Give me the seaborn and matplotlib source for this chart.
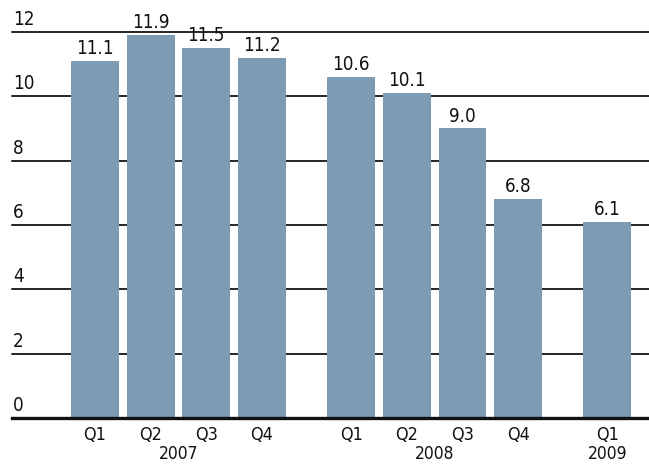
import matplotlib
matplotlib.use("Agg")
import matplotlib.pyplot as plt
import matplotlib.transforms as mtransforms
from matplotlib import font_manager
import seaborn as sns
import pandas as pd

# Quarterly GDP growth, percent
quarters = ["Q1", "Q2", "Q3", "Q4", "Q1", "Q2", "Q3", "Q4", "Q1"]
years = ["2007", "2007", "2007", "2007", "2008", "2008", "2008", "2008", "2009"]
growth = [11.1, 11.9, 11.5, 11.2, 10.6, 10.1, 9.0, 6.8, 6.1]
y_ticks = [0, 2, 4, 6, 8, 10, 12]

sns.set_theme(style="white")
names = {f.name for f in font_manager.fontManager.ttflist}
condensed = [n for n in ["Liberation Sans Narrow", "DejaVu Sans Condensed"] if n in names]
plt.rcParams["font.family"] = condensed + ["DejaVu Sans"]
plt.rcParams["font.stretch"] = "condensed"

# Bars sit in year groups with an extra gap between groups
year_order = list(dict.fromkeys(years))
group_gap = 0.6
pos = [i + group_gap * year_order.index(y) for i, y in enumerate(years)]
df = pd.DataFrame({"pos": pos, "growth": growth, "quarter": quarters, "year": years})

fig = plt.figure(figsize=(6.49, 4.65), dpi=100)
ax = fig.add_axes([12 / 649, 47 / 465, 637 / 649, 386 / 465])

bar_color = "#7e9bb4"
sns.barplot(data=df, x="pos", y="growth", native_scale=True, width=0.86,
            color=bar_color, saturation=1, linewidth=0, ax=ax, zorder=3,
            errorbar=None)

ax.set_ylim(0, 12)
ax.set_xlim(-1.49, 9.95)

text_kw = dict(color="#111111", fontstretch="condensed")

# Horizontal rules behind the bars, with labels sitting on them at the left
label_off = mtransforms.offset_copy(ax.get_yaxis_transform(), fig=fig, x=1, y=3, units="dots")
for t in y_ticks:
    if t > 0:
        ax.axhline(t, color="#262626", lw=1.4, zorder=1, clip_on=False)
    ax.text(0, t, str(t), transform=label_off, ha="left", va="bottom",
            fontsize=13.5, **text_kw)

# Value labels above each bar
for p, v in zip(pos, growth):
    ax.annotate(f"{v:.1f}", (p, v), xytext=(0, 2), textcoords="offset points",
                ha="center", va="bottom", fontsize=13.5,
                annotation_clip=False, zorder=4, **text_kw)

# Quarter and year labels under the baseline
ax.set_yticks([])
ax.set_xticks(pos)
ax.set_xticklabels(quarters, fontsize=13, **text_kw)
ax.tick_params(axis="x", length=0, pad=6)
ax.set_xlabel("")
ax.set_ylabel("")
for y in year_order:
    ps = [p for p, yy in zip(pos, years) if yy == y]
    ax.text(sum(ps) / len(ps), -0.85, y, ha="center", va="top",
            fontsize=12.5, clip_on=False, **text_kw)

for s in ["left", "right", "top"]:
    ax.spines[s].set_visible(False)
ax.spines["bottom"].set_color("#111111")
ax.spines["bottom"].set_linewidth(2.4)
ax.spines["bottom"].set_zorder(5)

fig.savefig("out.png", dpi=100)
